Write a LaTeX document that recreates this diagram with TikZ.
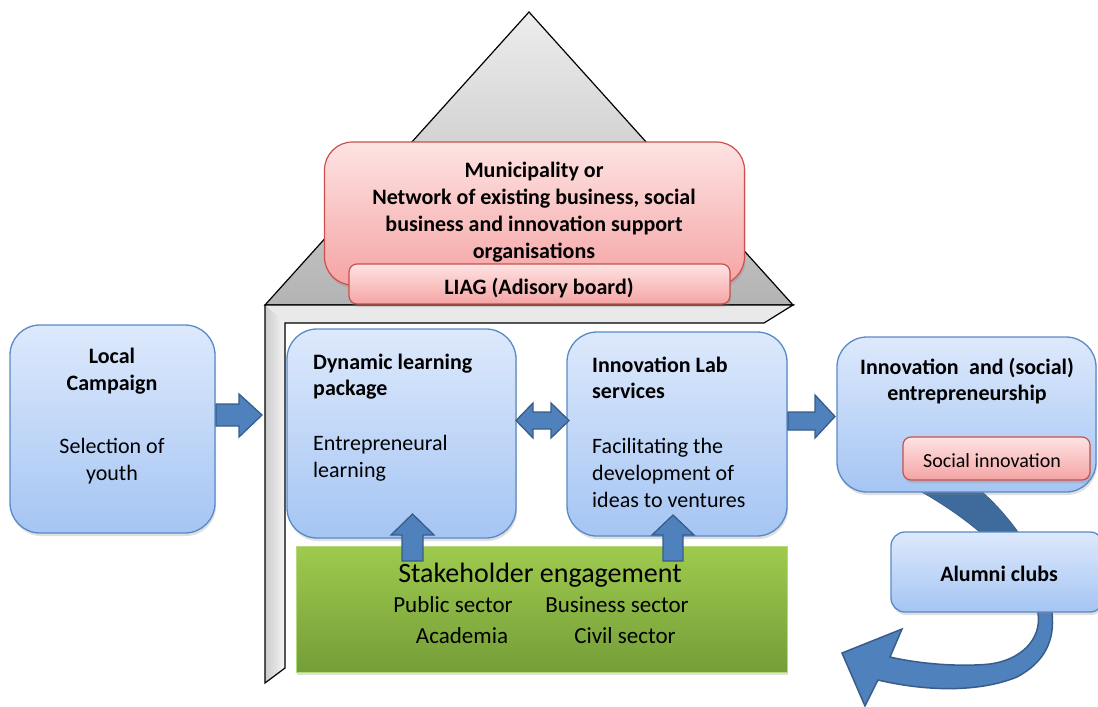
\documentclass[tikz,border=0pt]{standalone}
\usepackage{fontspec}
\setmainfont{Carlito}
\usetikzlibrary{shadows}
\definecolor{bluetop}{HTML}{DDE9FC}
\definecolor{bluebot}{HTML}{A5C5F3}
\definecolor{blueedge}{HTML}{5A8AC6}
\definecolor{redtop}{HTML}{FEE3E3}
\definecolor{redbot}{HTML}{F5A4A4}
\definecolor{rededge}{HTML}{C9504D}
\definecolor{greentop}{HTML}{9FCA4E}
\definecolor{greenbot}{HTML}{749E38}
\definecolor{greenedge}{HTML}{B3D97A}
\definecolor{arrowfill}{HTML}{4F81BD}
\definecolor{arrowedge}{HTML}{385D8A}
\definecolor{arrowdark}{HTML}{3E6A9C}
\definecolor{roofTop}{HTML}{EDEDED}
\definecolor{roofBot}{HTML}{B3B3B3}
\definecolor{wallgray}{HTML}{E9E9E9}
\tikzset{
  softshadow/.style={drop shadow={opacity=0.25, shadow xshift=1pt, shadow yshift=-3pt}},
  bluebox/.style={draw=blueedge, line width=1.3pt, top color=bluetop, bottom color=bluebot,
    rounded corners=30pt, inner sep=0pt, softshadow},
  redbox/.style={draw=rededge, line width=1.2pt, top color=redtop, bottom color=redbot,
    rounded corners=28pt, inner sep=0pt, softshadow},
  greenbox/.style={draw=greenedge, line width=1pt, top color=greentop, bottom color=greenbot,
    inner sep=0pt, softshadow},
  blockarrow/.style={fill=arrowfill, draw=arrowedge, line width=1.3pt, line join=miter},
  hb/.style={anchor=base, inner sep=0pt, font=\fontsize{22}{26.8}\selectfont\bfseries},
  bt/.style={anchor=base, inner sep=0pt, font=\fontsize{22}{26.8}\selectfont},
  lft/.style={anchor=base west},
}
\begin{document}
\begin{tikzpicture}[x=1pt,y=-1pt]
\useasboundingbox (0,0) rectangle (1098,707);

% roof
\draw[line width=1.2pt, line join=miter, top color=roofTop, bottom color=roofBot]
  (265,305) -- (529,12) -- (793,305) -- cycle;

% wall
\fill[wallgray] (265,305) -- (793,305) -- (764,323) -- (285,323) -- (285,668) -- (265,683) -- cycle;
\shade[left color=gray!40, right color=gray!8] (265,305) -- (285,323) -- (285,668) -- (265,683) -- cycle;
\draw[line width=1.2pt, line join=miter] (265,305) -- (793,305) -- (764,323) -- (285,323) -- (285,668) -- (265,683) -- cycle;

% municipality and LIAG
\node[redbox, minimum width=420pt, minimum height=143pt] (muni) at (534.5,213.5) {};
\node[redbox, rounded corners=8pt, minimum width=381pt, minimum height=40pt] (liag) at (539.5,284) {};
\node[hb] (m1) at (534,177) {Municipality or};
\node[hb] (m2) at (534,204) {Network of existing business, social};
\node[hb] (m3) at (534,231) {business and innovation support};
\node[hb] (m4) at (534,258) {organisations};
\node[hb] (l1) at (539,294) {LIAG (Adisory board)};

% curved arrow (behind boxes)
\draw[fill=arrowfill, draw=arrowedge, line width=1.5pt, line join=miter]
  (915,488) .. controls (950,506) and (1030,560) .. (1038,613)
  .. controls (1042,640) and (1020,660) .. (990,664)
  .. controls (960,667) and (920,664) .. (890,657)
  -- (902,629) -- (842,653) -- (865,706) -- (878,680)
  .. controls (920,690) and (975,694) .. (1017,677)
  .. controls (1045,662) and (1055,640) .. (1052,613)
  .. controls (1050,570) and (1010,515) .. (977,488) -- cycle;
\begin{scope}
  \clip (880,470) rectangle (1070,545);
  \fill[arrowdark]
  (915,488) .. controls (950,506) and (1030,560) .. (1038,613)
  -- (1052,613)
  .. controls (1050,570) and (1010,515) .. (977,488) -- cycle;
\end{scope}

% blue boxes
\node[bluebox, minimum width=205pt, minimum height=208pt] (lc) at (112.5,429) {};
\node[bluebox, minimum width=229pt, minimum height=209pt] (dl) at (401.5,433.5) {};
\node[bluebox, minimum width=220pt, minimum height=204pt] (il) at (677,434) {};
\node[bluebox, minimum width=259pt, minimum height=155pt] (ise) at (966.5,414.5) {};
\node[redbox, rounded corners=8pt, minimum width=187pt, minimum height=43pt] (si) at (996.5,458.5) {};
\node[bluebox, rounded corners=14pt, minimum width=213pt, minimum height=80pt] (al) at (997.5,572) {};

% green box
\node[greenbox, minimum width=491pt, minimum height=126pt] (sh) at (541.5,609) {};

% texts
\node[hb] (lc1) at (112,363) {Local};
\node[hb] (lc2) at (112,390) {Campaign};
\node[bt] (lc3) at (112,453) {Selection of};
\node[bt] (lc4) at (112,480) {youth};

\node[hb, lft] (dl1) at (313,369) {Dynamic learning};
\node[hb, lft] (dl2) at (313,395) {package};
\node[bt, lft] (dl3) at (313,450) {Entrepreneural};
\node[bt, lft] (dl4) at (313,477) {learning};

\node[hb, lft] (il1) at (592,372) {Innovation Lab};
\node[hb, lft] (il2) at (592,398) {services};
\node[bt, lft] (il3) at (592,453) {Facilitating the};
\node[bt, lft] (il4) at (592,480) {development of};
\node[bt, lft] (il5) at (592,507) {ideas to ventures};

\node[hb] (ise1) at (967,374) {Innovation\hspace{0.25em} and (social)};
\node[hb] (ise2) at (967,400) {entrepreneurship};
\node[bt, font=\fontsize{20}{24}\selectfont] (si1) at (992,467) {Social innovation};
\node[hb] (al1) at (999,581) {Alumni clubs};

\node[bt, font=\fontsize{28}{32}\selectfont] (sh1) at (540,582) {Stakeholder engagement};
\node[bt, font=\fontsize{23}{27}\selectfont] (sh2) at (453,612) {Public sector};
\node[bt, font=\fontsize{23}{27}\selectfont] (sh3) at (617,612) {Business sector};
\node[bt, font=\fontsize{23}{27}\selectfont] (sh4) at (462,643) {Academia};
\node[bt, font=\fontsize{23}{27}\selectfont] (sh5) at (625,643) {Civil sector};

% block arrows
\draw[blockarrow] (216,404) -- (239,404) -- (239,394) -- (262,415) -- (239,437) -- (239,426) -- (216,426) -- cycle;
\draw[blockarrow] (516,420.5) -- (533,403) -- (533,412) -- (551,412) -- (551,403) -- (569,420.5)
  -- (551,438) -- (551,429) -- (533,429) -- (533,438) -- cycle;
\draw[blockarrow] (788,412) -- (815,412) -- (815,395) -- (835,416.5) -- (815,438) -- (815,430) -- (788,430) -- cycle;
\draw[blockarrow] (402,561) -- (402,535) -- (391,535) -- (412.5,514) -- (434,535) -- (423,535) -- (423,561) -- cycle;
\draw[blockarrow] (663,561) -- (663,535) -- (652,535) -- (673,515) -- (694,535) -- (683,535) -- (683,561) -- cycle;
\end{tikzpicture}
\end{document}
